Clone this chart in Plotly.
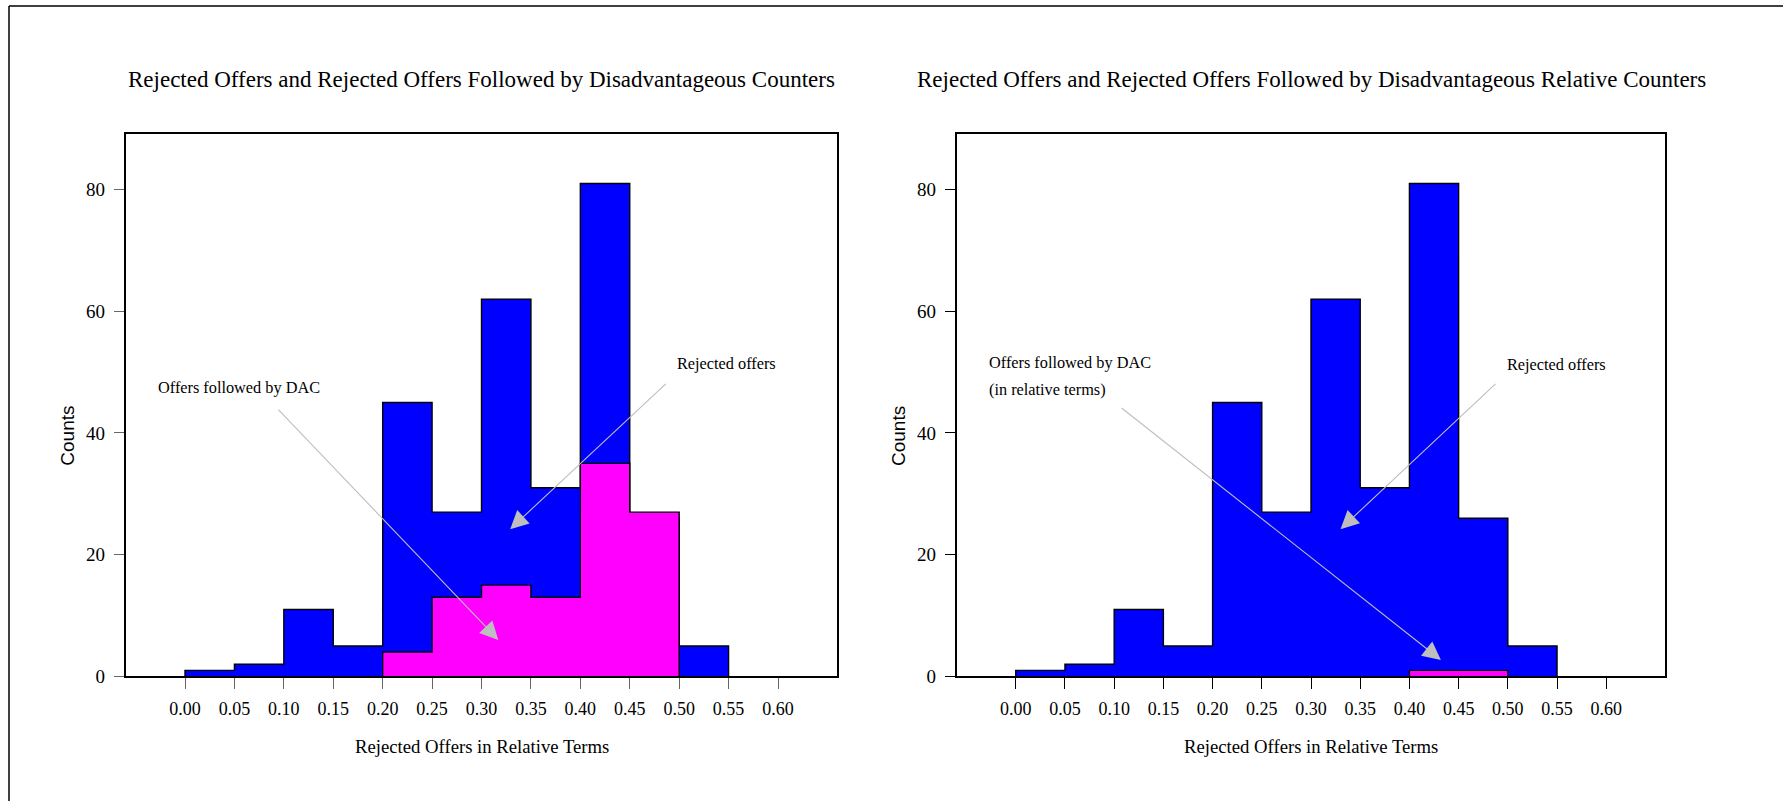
import plotly.graph_objects as go

# Histogram bins (relative size of the rejected offer)
bin_edges = [0.00, 0.05, 0.10, 0.15, 0.20, 0.25, 0.30, 0.35, 0.40, 0.45, 0.50, 0.55]

# Counts of rejected offers per bin (same data in both panels)
rejected_counts = [1, 2, 11, 5, 45, 27, 62, 31, 81, 26, 5]

# Offers followed by disadvantageous counters (DAC), bins starting at 0.20
dac_start = 4
dac_counts = [4, 13, 15, 13, 35, 27]

# Offers followed by DAC in relative terms, bins starting at 0.40
rel_dac_start = 8
rel_dac_counts = [1, 1]

tick_values = [0.00, 0.05, 0.10, 0.15, 0.20, 0.25, 0.30, 0.35, 0.40, 0.45, 0.50, 0.55, 0.60]
tick_labels = ["0.00", "0.05", "0.10", "0.15", "0.20", "0.25", "0.30", "0.35",
               "0.40", "0.45", "0.50", "0.55", "0.60"]
count_ticks = [0, 20, 40, 60, 80]

titles = [
    "Rejected Offers and Rejected Offers Followed by Disadvantageous Counters",
    "Rejected Offers and Rejected Offers Followed by Disadvantageous Relative Counters",
]
x_title = "Rejected Offers in Relative Terms"
y_title = "Counts"

W, H = 1783, 812
SERIF = "Liberation Serif, Times New Roman, serif"
SANS = "Liberation Sans, Arial, sans-serif"
BLUE = "#0000FF"
PINK = "#FF00FF"
ARROW = "#BEBEBE"


def step_outline(first_bin, counts):
    """Closed stair-step outline of a histogram, for line_shape='hv'."""
    edges = bin_edges + [bin_edges[-1] + 0.05]
    xs = [edges[first_bin]] + edges[first_bin:first_bin + len(counts)] + [edges[first_bin + len(counts)]]
    ys = [0] + list(counts) + [0]
    return xs, ys


fig = go.Figure()


def add_hist(first_bin, counts, color, xa, ya):
    xs, ys = step_outline(first_bin, counts)
    fig.add_trace(go.Scatter(
        x=xs, y=ys, mode="lines", line=dict(shape="hv", color="black", width=1.4),
        fill="toself", fillcolor=color, xaxis=xa, yaxis=ya, showlegend=False,
        hoverinfo="skip",
    ))


add_hist(0, rejected_counts, BLUE, "x", "y")
add_hist(dac_start, dac_counts, PINK, "x", "y")
add_hist(0, rejected_counts, BLUE, "x2", "y2")
add_hist(rel_dac_start, rel_dac_counts, PINK, "x2", "y2")

y_dom = [1 - 685.7 / H, 1 - 136 / H]
x_doms = [[125.7 / W, 837.3 / W], [956.7 / W, 1665.3 / W]]
tick_colors = ["#666666", "#000000"]

for i, (xk, yk) in enumerate([("xaxis", "yaxis"), ("xaxis2", "yaxis2")]):
    fig.layout[xk] = dict(
        domain=x_doms[i], range=[-0.06, 0.66], anchor="y" if i == 0 else "y2",
        tickmode="array", tickvals=tick_values, ticktext=tick_labels,
        ticks="outside", ticklen=11, tickwidth=1.2, tickcolor=tick_colors[i],
        tickfont=dict(family=SERIF, size=18, color="black"), ticklabelstandoff=4,
        showline=True, linecolor="black", linewidth=2, mirror=True,
        showgrid=False, zeroline=False,
    )
    fig.layout[yk] = dict(
        domain=y_dom, range=[0, 89.1], anchor="x" if i == 0 else "x2",
        tickmode="array", tickvals=count_ticks,
        ticks="outside", ticklen=10, tickwidth=1.2, tickcolor=tick_colors[i],
        tickfont=dict(family=SERIF, size=19, color="black"), ticklabelstandoff=5,
        showline=True, linecolor="black", linewidth=2, mirror=True,
        showgrid=False, zeroline=False,
    )

annotations = []
for i, xr in enumerate(["x", "x2"]):
    dom = xr + " domain"
    annotations.append(dict(text=titles[i], xref=dom, x=0.5, yref="paper", y=1 - 80.7 / H,
                            xanchor="center", yanchor="middle", showarrow=False,
                            font=dict(family=SERIF, size=23, color="black")))
    annotations.append(dict(text=x_title, xref=dom, x=0.5, yref="paper", y=1 - 757 / H,
                            xanchor="center", yanchor="middle", showarrow=False,
                            font=dict(family=SERIF, size=18.7, color="black")))
    annotations.append(dict(text=y_title, xref="paper", x=(66.7 if i == 0 else 898) / W,
                            yref="paper", y=1 - 442 / H, textangle=-90,
                            xanchor="center", yanchor="middle", showarrow=False,
                            font=dict(family=SANS, size=19, color="black")))

# Labels with arrows, in data coordinates
label_font = dict(family=SERIF, size=16.3, color="black")
arrow_style = dict(showarrow=True, arrowhead=2, arrowsize=3.3, arrowwidth=1.1,
                   arrowcolor=ARROW, standoff=0)

# Left panel
annotations.append(dict(text="Offers followed by DAC", xref="x", yref="y", x=-0.029, y=47.4,
                        xanchor="left", yanchor="middle", showarrow=False, font=label_font))
annotations.append(dict(text="", xref="x", yref="y", x=0.317, y=6.0,
                        axref="x", ayref="y", ax=0.093, ay=44.1, **arrow_style))
annotations.append(dict(text="Rejected offers", xref="x", yref="y", x=0.496, y=51.4,
                        xanchor="left", yanchor="middle", showarrow=False, font=label_font))
annotations.append(dict(text="", xref="x", yref="y", x=0.329, y=24.2,
                        axref="x", ayref="y", ax=0.488, ay=48.3, **arrow_style))

# Right panel
annotations.append(dict(text="Offers followed by DAC", xref="x2", yref="y2", x=-0.029, y=51.5,
                        xanchor="left", yanchor="middle", showarrow=False, font=label_font))
annotations.append(dict(text="(in relative terms)", xref="x2", yref="y2", x=-0.029, y=47.2,
                        xanchor="left", yanchor="middle", showarrow=False, font=label_font))
annotations.append(dict(text="", xref="x2", yref="y2", x=0.432, y=2.7,
                        axref="x2", ayref="y2", ax=0.106, ay=44.3, **arrow_style))
annotations.append(dict(text="Rejected offers", xref="x2", yref="y2", x=0.497, y=51.3,
                        xanchor="left", yanchor="middle", showarrow=False, font=label_font))
annotations.append(dict(text="", xref="x2", yref="y2", x=0.330, y=24.2,
                        axref="x2", ayref="y2", ax=0.489, ay=48.3, **arrow_style))

# Outer page frame (left and top edges)
shapes = [
    dict(type="line", xref="paper", yref="paper", x0=9 / W, x1=9 / W, y0=0, y1=1 - 6 / H,
         line=dict(color="black", width=1.5)),
    dict(type="line", xref="paper", yref="paper", x0=9 / W, x1=1, y0=1 - 6 / H, y1=1 - 6 / H,
         line=dict(color="black", width=1.5)),
]

fig.update_layout(
    width=W, height=H, margin=dict(l=0, r=0, t=0, b=0),
    paper_bgcolor="white", plot_bgcolor="white",
    annotations=annotations, shapes=shapes, showlegend=False,
)

fig.write_html("out.html")
